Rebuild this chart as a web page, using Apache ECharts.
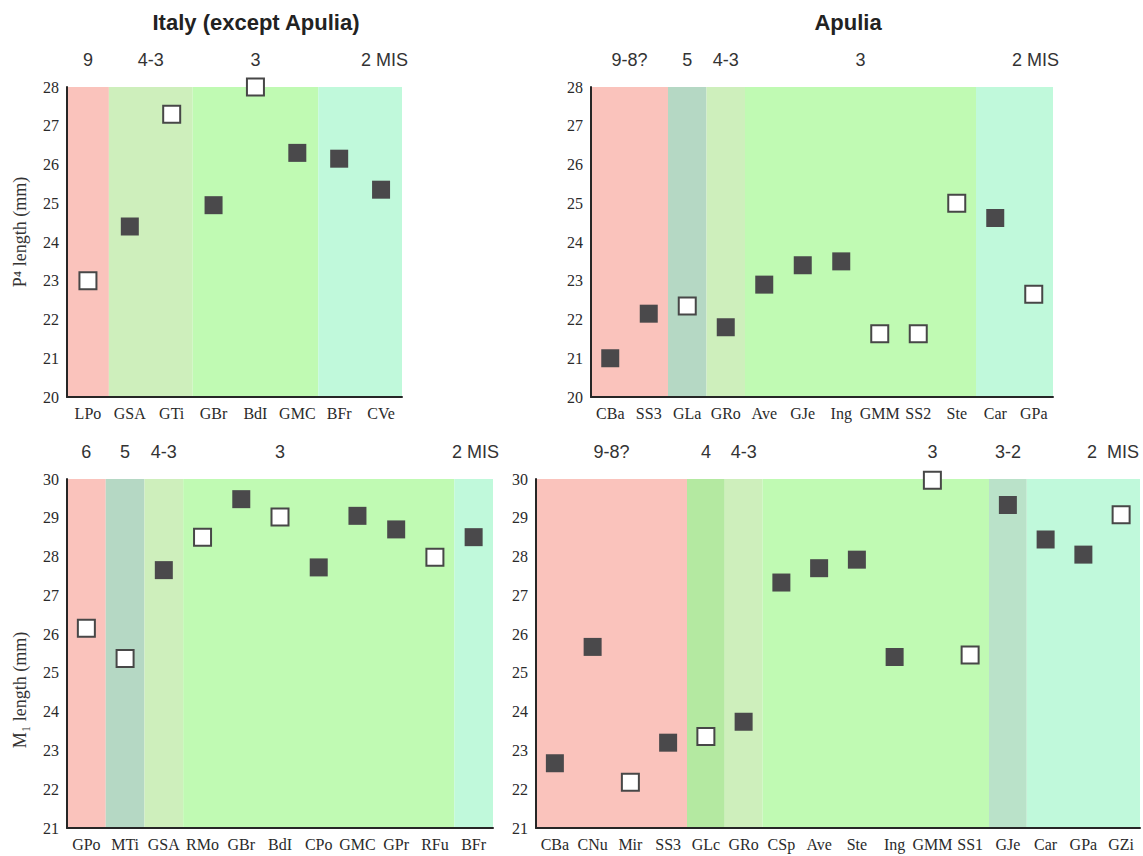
<!DOCTYPE html>
<html>
<head>
<meta charset="utf-8">
<script src="https://cdn.jsdelivr.net/npm/echarts@6/dist/echarts.min.js"></script>
<style>
  html, body { margin: 0; padding: 0; background: #ffffff; }
  #chart { width: 1143px; height: 856px; }
</style>
</head>
<body>
<div id="chart"></div>
<script>
// ---------------- DATA ----------------
// kind: 'f' = filled square, 'o' = open square
const TL_CATS   = ['LPo', 'GSA', 'GTi', 'GBr', 'BdI', 'GMC', 'BFr', 'CVe'];
const TL_VALUES = [23.0, 24.4, 27.3, 24.95, 28.0, 26.3, 26.15, 25.35];
const TL_KIND   = ['o', 'f', 'o', 'f', 'o', 'f', 'f', 'f'];
// [stage label, first category, last category, (optional) category above which the label sits]
const TL_STAGES = [['9', 'LPo', 'LPo'], ['4-3', 'GSA', 'GTi'], ['3', 'GBr', 'GMC'], ['2 MIS', 'BFr', 'CVe']];

const TR_CATS   = ['CBa', 'SS3', 'GLa', 'GRo', 'Ave', 'GJe', 'Ing', 'GMM', 'SS2', 'Ste', 'Car', 'GPa'];
const TR_VALUES = [21.0, 22.15, 22.35, 21.8, 22.9, 23.4, 23.5, 21.63, 21.63, 25.0, 24.62, 22.65];
const TR_KIND   = ['f', 'f', 'o', 'f', 'f', 'f', 'f', 'o', 'o', 'o', 'f', 'o'];
const TR_STAGES = [['9-8?', 'CBa', 'SS3'], ['5', 'GLa', 'GLa'], ['4-3', 'GRo', 'GRo'], ['3', 'Ave', 'Ste'], ['2 MIS', 'Car', 'GPa']];

const BL_CATS   = ['GPo', 'MTi', 'GSA', 'RMo', 'GBr', 'BdI', 'CPo', 'GMC', 'GPr', 'RFu', 'BFr'];
const BL_VALUES = [26.15, 25.37, 27.65, 28.5, 29.48, 29.02, 27.72, 29.05, 28.7, 27.98, 28.5];
const BL_KIND   = ['o', 'o', 'f', 'o', 'f', 'o', 'f', 'f', 'f', 'o', 'f'];
const BL_STAGES = [['6', 'GPo', 'GPo'], ['5', 'MTi', 'MTi'], ['4-3', 'GSA', 'GSA'], ['3', 'RMo', 'RFu', 'BdI'], ['2 MIS', 'BFr', 'BFr']];

const BR_CATS   = ['CBa', 'CNu', 'Mir', 'SS3', 'GLc', 'GRo', 'CSp', 'Ave', 'Ste', 'Ing', 'GMM', 'SS1', 'GJe', 'Car', 'GPa', 'GZi'];
const BR_VALUES = [22.67, 25.67, 22.18, 23.2, 23.36, 23.74, 27.33, 27.7, 27.92, 25.41, 29.97, 25.46, 29.33, 28.44, 28.05, 29.08];
const BR_KIND   = ['f', 'f', 'o', 'f', 'o', 'f', 'f', 'f', 'f', 'f', 'o', 'o', 'f', 'f', 'f', 'o'];
const BR_STAGES = [['9-8?', 'CBa', 'SS3'], ['4', 'GLc', 'GLc'], ['4-3', 'GRo', 'GRo'], ['3', 'CSp', 'SS1', 'GMM'], ['3-2', 'GJe', 'GJe'], ['2  MIS', 'Car', 'GZi']];

const TITLES = ['Italy (except Apulia)', 'Apulia'];
const Y_NAMES = ['P\u2074 length (mm)', 'M\u2081 length (mm)'];

// ---------------- STYLE ----------------
const STAGE_COLORS = {
  '9': '#fac3bc', '9-8?': '#fac3bc', '6': '#fac3bc',
  '5': '#b5d8c4', '4': '#b4e9a1', '4-3': '#ceefbc', '3': '#c0fab3',
  '3-2': '#bae2c9', '2 MIS': '#c0f9db', '2  MIS': '#c0f9db'
};
const SERIF = '"Liberation Serif", "DejaVu Serif", serif';
const SANS = '"Liberation Sans", Arial, sans-serif';
const CHART_W = 1143;

const panels = [
  { cats: TL_CATS, values: TL_VALUES, kind: TL_KIND, stages: TL_STAGES, grid: { left: 67, top: 87, width: 335, height: 310 }, min: 20, max: 28 },
  { cats: TR_CATS, values: TR_VALUES, kind: TR_KIND, stages: TR_STAGES, grid: { left: 591, top: 87, width: 462, height: 310 }, min: 20, max: 28 },
  { cats: BL_CATS, values: BL_VALUES, kind: BL_KIND, stages: BL_STAGES, grid: { left: 67, top: 479, width: 426, height: 349 }, min: 21, max: 30 },
  { cats: BR_CATS, values: BR_VALUES, kind: BR_KIND, stages: BR_STAGES, grid: { left: 536, top: 479, width: 604, height: 349 }, min: 21, max: 30 }
];

const grids = [], xAxes = [], yAxes = [], series = [];

panels.forEach((p, gi) => {
  grids.push(Object.assign({ containLabel: false }, p.grid));
  xAxes.push({
    type: 'category', gridIndex: gi, data: p.cats, z: 10,
    axisLine: { show: true, lineStyle: { color: '#262626', width: 2 } },
    axisTick: { show: false },
    axisLabel: { interval: 0, fontFamily: SERIF, fontSize: 16, color: '#2a2a2a', margin: 8 },
    splitLine: { show: false }
  });
  yAxes.push({
    type: 'value', gridIndex: gi, min: p.min, max: p.max, interval: 1, z: 10,
    axisLine: { show: true, lineStyle: { color: '#262626', width: 2 } },
    axisTick: { show: false },
    axisLabel: { fontFamily: SERIF, fontSize: 16, color: '#2a2a2a', margin: 8 },
    splitLine: { show: false }
  });

  const stageData = p.stages.map(s => [p.cats.indexOf(s[1]), p.cats.indexOf(s[2])]);
  series.push({
    type: 'custom', xAxisIndex: gi, yAxisIndex: gi, z: 1, silent: true,
    encode: { x: [0, 1] },
    data: stageData,
    renderItem: function (params, api) {
      const s = p.stages[params.dataIndex];
      const cs = params.coordSys;
      const i0 = api.value(0), i1 = api.value(1);
      const bw = api.size([1, 0])[0];
      const x0 = api.coord([i0, p.min])[0] - bw / 2;
      const x1 = api.coord([i1, p.min])[0] + bw / 2;
      const isLast = params.dataIndex === p.stages.length - 1;
      let lx, align;
      if (isLast) { lx = Math.min(x1 + 6, CHART_W - 4); align = 'right'; }
      else if (s[3]) { lx = api.coord([p.cats.indexOf(s[3]), p.min])[0]; align = 'center'; }
      else { lx = (x0 + x1) / 2; align = 'center'; }
      return {
        type: 'group',
        children: [
          { type: 'rect', shape: { x: x0, y: cs.y, width: x1 - x0, height: cs.height },
            style: { fill: STAGE_COLORS[s[0]] } },
          { type: 'text', x: lx, y: cs.y - 27,
            style: { text: s[0], textAlign: align, textVerticalAlign: 'middle',
                     fill: '#333', font: '18px ' + SANS } }
        ]
      };
    }
  });

  const filled = [], open = [];
  p.values.forEach((v, i) => { (p.kind[i] === 'f' ? filled : open).push([i, v]); });
  series.push({
    type: 'scatter', xAxisIndex: gi, yAxisIndex: gi, z: 5, symbol: 'rect', symbolSize: 18,
    itemStyle: { color: '#4a494b', opacity: 1 }, data: filled
  });
  series.push({
    type: 'scatter', xAxisIndex: gi, yAxisIndex: gi, z: 5, symbol: 'rect', symbolSize: 17,
    itemStyle: { color: '#ffffff', borderColor: '#474747', borderWidth: 2, opacity: 1 }, data: open
  });
});

const chart = echarts.init(document.getElementById('chart'), null, { renderer: 'svg', width: 1143, height: 856 });
chart.setOption({
  backgroundColor: '#ffffff',
  animation: false,
  grid: grids, xAxis: xAxes, yAxis: yAxes, series: series,
  graphic: [
    { type: 'text', x: 256, y: 22, style: { text: TITLES[0], textAlign: 'center', textVerticalAlign: 'middle', fill: '#222', font: 'bold 22px ' + SANS } },
    { type: 'text', x: 848, y: 22, style: { text: TITLES[1], textAlign: 'center', textVerticalAlign: 'middle', fill: '#222', font: 'bold 22px ' + SANS } },
    { type: 'text', x: 20, y: 232, rotation: Math.PI / 2, style: { text: Y_NAMES[0], textAlign: 'center', textVerticalAlign: 'middle', fill: '#333', font: '18px ' + SERIF } },
    { type: 'text', x: 20, y: 690, rotation: Math.PI / 2, style: { text: Y_NAMES[1], textAlign: 'center', textVerticalAlign: 'middle', fill: '#333', font: '18px ' + SERIF } }
  ]
});
</script>
</body>
</html>
